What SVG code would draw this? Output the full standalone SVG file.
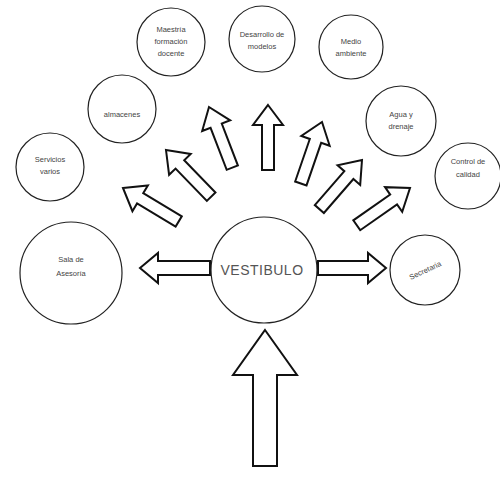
<svg xmlns="http://www.w3.org/2000/svg" width="500" height="480" viewBox="0 0 500 480">
<style>
.n{fill:#fff;stroke:#222;stroke-width:1.2}
.t{font-family:"Liberation Sans",Arial,sans-serif;font-size:7.5px;fill:#444;text-anchor:middle}
.big{font-family:"Liberation Sans",Arial,sans-serif;font-size:14px;fill:#555;text-anchor:middle;letter-spacing:0.5px}
.a{fill:#fff;stroke:#111;stroke-width:2;stroke-linejoin:miter}
</style>
<defs>
<polygon id="fan" points="0,0 15,20 6,20 6,65 -6,65 -6,20 -15,20"/>
</defs>
<rect width="500" height="480" fill="#fff"/>
<g id="connectors">
<use href="#fan" class="a" transform="translate(123,188) rotate(-59)"/>
<use href="#fan" class="a" transform="translate(166,150) rotate(-44)"/>
<use href="#fan" class="a" transform="translate(209,107) rotate(-21)"/>
<use href="#fan" class="a" transform="translate(268,105)"/>
<use href="#fan" class="a" transform="translate(322,122) rotate(19)"/>
<use href="#fan" class="a" transform="translate(362,160) rotate(41)"/>
<use href="#fan" class="a" transform="translate(410,188) rotate(55)"/>
<polygon class="a" points="140,268 158,253 158,261 210,261 210,275 158,275 158,283"/>
<polygon class="a" points="386,268 368,253 368,261 318,261 318,275 368,275 368,283"/>
<polygon class="a" points="265,330 297,375 277,375 277,466 253,466 253,375 233,375"/>
</g>
<g id="n-maestria"><circle class="n" cx="171" cy="42" r="34"/><text class="t" x="171" y="32">Maestría</text><text class="t" x="171" y="44">formación</text><text class="t" x="171" y="56">docente</text></g>
<g id="n-desarrollo"><circle class="n" cx="262" cy="39" r="33"/><text class="t" x="262" y="37">Desarrollo de</text><text class="t" x="262" y="49">modelos</text></g>
<g id="n-medio"><circle class="n" cx="351" cy="47" r="32"/><text class="t" x="351" y="44">Medio</text><text class="t" x="351" y="56">ambiente</text></g>
<g id="n-almacenes"><circle class="n" cx="122" cy="109" r="34"/><text class="t" x="122" y="117">almacenes</text></g>
<g id="n-agua"><circle class="n" cx="401" cy="121" r="35"/><text class="t" x="401" y="117">Agua y</text><text class="t" x="401" y="129">drenaje</text></g>
<g id="n-servicios"><circle class="n" cx="50" cy="167" r="34"/><text class="t" x="50" y="162">Servicios</text><text class="t" x="50" y="174">varios</text></g>
<g id="n-control"><circle class="n" cx="468" cy="176" r="33"/><text class="t" x="468" y="164">Control de</text><text class="t" x="468" y="177">calidad</text></g>
<g id="n-sala"><circle class="n" cx="71" cy="273" r="51"/><text class="t" x="71" y="262">Sala de</text><text class="t" x="71" y="276">Asesoría</text></g>
<g id="n-vestibulo"><circle class="n" cx="264" cy="270" r="53"/><text class="big" x="262" y="275">VESTIBULO</text></g>
<g id="n-secretaria"><circle class="n" cx="425" cy="270" r="35"/><text class="t" x="425" y="273" transform="rotate(-25 425 270)">Secretaria</text></g>
</svg>
